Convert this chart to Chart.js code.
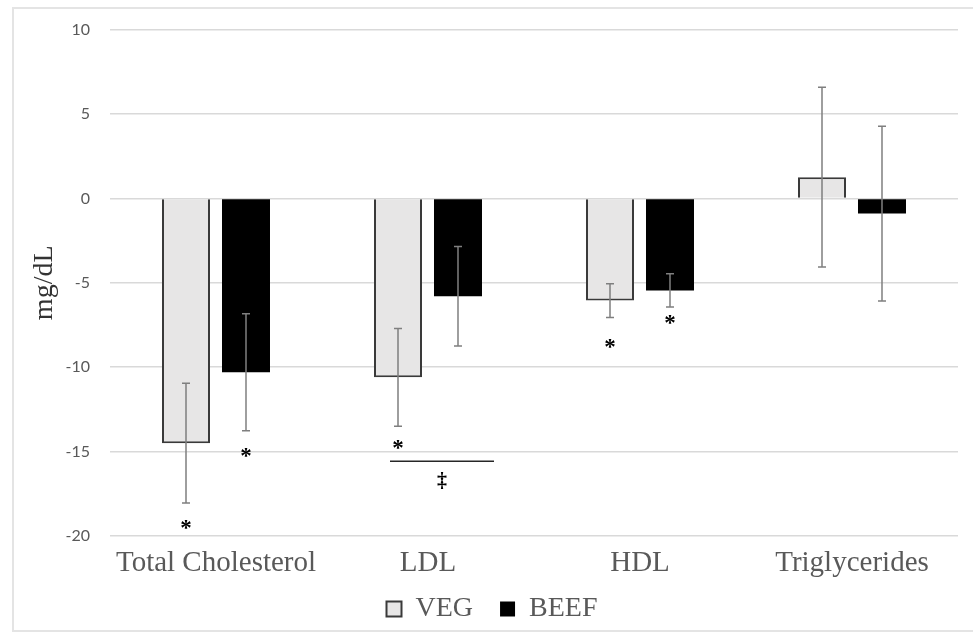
<!DOCTYPE html>
<html>
<head>
<meta charset="utf-8">
<script src="https://cdn.jsdelivr.net/npm/chart.js@4"></script>
<style>
    html, body { margin: 0; padding: 0; background: #fff; }
    #frame {
        position: absolute; left: 12px; top: 7px; width: 970px; height: 621px;
        border: 2px solid #e4e4e4; border-right: none;
    }
    #box { position: absolute; left: 0; top: 0; width: 973px; height: 635px; }
</style>
</head>
<body>
<div id="frame"></div>
<div id="box"><canvas id="lipidChart"></canvas></div>
<script>
// Change from baseline (mg/dL), mean and error
const categories = ['Total Cholesterol', 'LDL', 'HDL', 'Triglycerides'];
const vegMeans = [-14.5, -10.6, -6.05, 1.26];
const vegErrors = [3.55, 2.9, 1.0, 5.33];
const beefMeans = [-10.3, -5.8, -5.45, -0.9];
const beefErrors = [3.47, 2.95, 0.98, 5.18];

// significance markers (value level where the symbol sits)
const vegStars = [-19.27, -14.55, -8.55, null];
const beefStars = [-15.04, null, -7.17, null];
const betweenGroupLine = [null, -15.57, null, null];
const betweenGroupMark = [null, -16.8, null, null];

const yTicks = [-20, -15, -10, -5, 0, 5, 10];

const serif = '"Liberation Serif", "Times New Roman", serif';

// Error bars + significance symbols drawn on top of the bars
const annotationsPlugin = {
    id: 'annotations',
    afterLayout(chart) {
        // x axis was squeezed so the legend sits close; let its labels draw below it
        chart.scales.x.bottom += 24;
    },
    afterDatasetsDraw(chart) {
        const ctx = chart.ctx;
        const y = chart.scales.y;
        const sets = [
            { means: vegMeans, errs: vegErrors, stars: vegStars },
            { means: beefMeans, errs: beefErrors, stars: beefStars }
        ];

        ctx.save();
        sets.forEach((set, di) => {
            const meta = chart.getDatasetMeta(di);
            meta.data.forEach((bar, i) => {
                const top = y.getPixelForValue(set.means[i] + set.errs[i]);
                const bottom = y.getPixelForValue(set.means[i] - set.errs[i]);
                ctx.strokeStyle = '#7f7f7f';
                ctx.lineWidth = 1.5;
                ctx.beginPath();
                ctx.moveTo(bar.x, top);
                ctx.lineTo(bar.x, bottom);
                ctx.moveTo(bar.x - 4, top);
                ctx.lineTo(bar.x + 4, top);
                ctx.moveTo(bar.x - 4, bottom);
                ctx.lineTo(bar.x + 4, bottom);
                ctx.stroke();

                if (set.stars[i] !== null) {
                    ctx.fillStyle = '#000';
                    ctx.font = 'bold 23px ' + serif;
                    ctx.textAlign = 'center';
                    ctx.textBaseline = 'alphabetic';
                    ctx.fillText('*', bar.x, y.getPixelForValue(set.stars[i]) + 11);
                }
            });
        });

        // VEG vs BEEF difference marker
        const vegMeta = chart.getDatasetMeta(0);
        const beefMeta = chart.getDatasetMeta(1);
        betweenGroupLine.forEach((v, i) => {
            if (v === null) return;
            const x1 = vegMeta.data[i].x - 8;
            const x2 = beefMeta.data[i].x + 36;
            const ly = y.getPixelForValue(v);
            ctx.strokeStyle = '#262626';
            ctx.lineWidth = 1.5;
            ctx.beginPath();
            ctx.moveTo(x1, ly);
            ctx.lineTo(x2, ly);
            ctx.stroke();

            ctx.fillStyle = '#000';
            ctx.font = 'bold 20px ' + serif;
            ctx.textAlign = 'center';
            ctx.textBaseline = 'middle';
            ctx.fillText('\u2021', (x1 + x2) / 2, y.getPixelForValue(betweenGroupMark[i]));
        });
        ctx.restore();
    }
};

const chart = new Chart(document.getElementById('lipidChart'), {
    type: 'bar',
    data: {
        labels: categories,
        datasets: [{
            label: 'VEG',
            data: vegMeans,
            backgroundColor: '#e7e6e6',
            borderColor: '#3a3a3a',
            borderWidth: 2,
            barPercentage: 0.8,
            categoryPercentage: 0.566
        }, {
            label: 'BEEF',
            data: beefMeans,
            backgroundColor: '#000000',
            borderColor: '#000000',
            borderWidth: 0,
            barPercentage: 0.8,
            categoryPercentage: 0.566
        }]
    },
    options: {
        responsive: true,
        maintainAspectRatio: false,
        animation: false,
        layout: { padding: { left: 26, right: 15, top: 20, bottom: 2 } },
        plugins: {
            tooltip: { enabled: false },
            legend: {
                position: 'bottom',
                labels: {
                    font: { family: serif, size: 28 },
                    color: '#595959',
                    boxWidth: 15,
                    boxHeight: 15,
                    padding: 27
                }
            }
        },
        scales: {
            x: {
                grid: { display: false, drawTicks: false },
                border: { display: false },
                ticks: {
                    font: { family: serif, size: 29 },
                    color: '#595959',
                    padding: 10
                },
                afterFit: scale => { scale.height = 32; }
            },
            y: {
                min: -20,
                max: 10,
                afterBuildTicks: axis => { axis.ticks = yTicks.map(v => ({ value: v })); },
                afterFit: scale => { scale.width = 84; },
                grid: { color: '#d9d9d9', lineWidth: 1.5, drawTicks: false },
                border: { display: false },
                ticks: {
                    font: { family: 'Lato, "Open Sans", sans-serif', size: 16 },
                    color: '#595959',
                    padding: 20
                },
                title: {
                    display: true,
                    text: 'mg/dL',
                    font: { family: serif, size: 28 },
                    color: '#333333',
                    padding: 2
                }
            }
        }
    },
    plugins: [annotationsPlugin]
});
</script>
</body>
</html>
